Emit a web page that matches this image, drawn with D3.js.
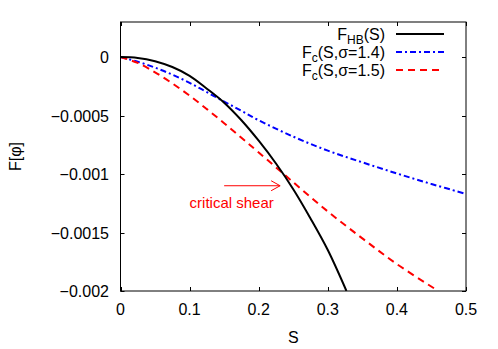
<!DOCTYPE html>
<html>
<head>
<meta charset="utf-8">
<script src="https://cdn.jsdelivr.net/npm/d3@7"></script>
<style>
  body { margin: 0; background: #fff; }
  svg { display: block; font-family: "Liberation Sans", Arial, sans-serif; }
</style>
</head>
<body>
<div id="chart"></div>
<script>
// values
var sHB  = [0, 0.025, 0.05, 0.075, 0.1, 0.125, 0.15, 0.175, 0.2, 0.225, 0.25, 0.275, 0.3, 0.327];
var fHB  = [0, -0.000007, -0.000035, -0.000085, -0.00016, -0.00027, -0.00039, -0.00054, -0.000715, -0.00091, -0.00113, -0.00138, -0.00165, -0.00200];

var s14  = [0, 0.025, 0.05, 0.075, 0.1, 0.125, 0.15, 0.175, 0.2, 0.25, 0.3, 0.35, 0.4, 0.45, 0.5];
var f14  = [0, -0.00004, -0.00009, -0.00015, -0.00022, -0.00030, -0.00038, -0.00046, -0.00054, -0.00068, -0.00080, -0.00090, -0.000995, -0.001085, -0.00117];

var s15  = [0, 0.025, 0.05, 0.075, 0.1, 0.125, 0.15, 0.175, 0.2, 0.25, 0.3, 0.35, 0.4, 0.46];
var f15  = [0, -0.00005, -0.00013, -0.000225, -0.00033, -0.000445, -0.000565, -0.00069, -0.000815, -0.00107, -0.00132, -0.00155, -0.00177, -0.00200];

var xTicks = [0, 0.1, 0.2, 0.3, 0.4, 0.5];
var yTicks = [0, -0.0005, -0.001, -0.0015, -0.002];
var yTickLabels = ["0", "\u22120.0005", "\u22120.001", "\u22120.0015", "\u22120.002"];

var W = 498, H = 349;
var m = {left: 120.5, right: 466, top: 22, bottom: 291};

var x = d3.scaleLinear().domain([0, 0.5]).range([m.left, m.right]);
var y = d3.scaleLinear().domain([-0.002, 0.0003]).range([m.bottom, m.top]);

var svg = d3.select("#chart").append("svg")
            .attr("width", W)
            .attr("height", H);

// ticks, mirrored on all four sides, pointing inward
var tickLen = 4;
var tg = svg.append("g").attr("stroke", "#000").attr("stroke-width", 1);
xTicks.forEach(function(t) {
  var px = Math.round(x(t)) + 0.5;
  tg.append("line").attr("x1", px).attr("x2", px).attr("y1", m.bottom).attr("y2", m.bottom - tickLen);
  tg.append("line").attr("x1", px).attr("x2", px).attr("y1", m.top).attr("y2", m.top + tickLen);
});
yTicks.forEach(function(t) {
  var py = Math.round(y(t)) + 0.5;
  tg.append("line").attr("x1", m.left).attr("x2", m.left + tickLen).attr("y1", py).attr("y2", py);
  tg.append("line").attr("x1", m.right).attr("x2", m.right - tickLen).attr("y1", py).attr("y2", py);
});

// tick labels
svg.selectAll(".xl").data(xTicks).enter().append("text")
   .attr("x", function(d) { return x(d); })
   .attr("y", 315)
   .attr("text-anchor", "middle")
   .attr("font-size", 16)
   .text(function(d) { return d === 0 ? "0" : d3.format(".1f")(d); });

svg.selectAll(".yl").data(yTicks).enter().append("text")
   .attr("x", 109)
   .attr("y", function(d) { return y(d) + 6; })
   .attr("text-anchor", "end")
   .attr("font-size", 16)
   .text(function(d, i) { return yTickLabels[i]; });

// axis titles
svg.append("text")
   .attr("x", x(0.25))
   .attr("y", 343)
   .attr("text-anchor", "middle")
   .attr("font-size", 16)
   .text("S");

svg.append("text")
   .attr("transform", "translate(21," + ((m.top + m.bottom) / 2) + ")rotate(-90)")
   .attr("text-anchor", "middle")
   .attr("font-size", 16)
   .text("F[\u03c6]");

// curves
svg.append("clipPath").attr("id", "clip")
   .append("rect")
   .attr("x", m.left).attr("y", m.top)
   .attr("width", m.right - m.left).attr("height", m.bottom - m.top);

var line = d3.line()
             .x(function(d) { return x(d[0]); })
             .y(function(d) { return y(d[1]); })
             .curve(d3.curveCatmullRom.alpha(0.5));

var series = [
  {s: s14, f: f14, color: "#0000ff", dash: "6,3,2,3"},
  {s: s15, f: f15, color: "#ff0000", dash: "7,5"},
  {s: sHB, f: fHB, color: "#000000", dash: null}
];

series.forEach(function(d) {
  svg.append("path")
     .attr("clip-path", "url(#clip)")
     .attr("d", line(d3.zip(d.s, d.f)))
     .attr("fill", "none")
     .attr("stroke", d.color)
     .attr("stroke-width", 2)
     .attr("stroke-dasharray", d.dash);
});

// frame
svg.append("rect")
   .attr("x", m.left).attr("y", m.top)
   .attr("width", m.right - m.left).attr("height", m.bottom - m.top)
   .attr("fill", "none")
   .attr("stroke", "#000")
   .attr("stroke-width", 1);

// legend
var legend = [
  {main: "F", sub: "HB", rest: "(S)", color: "#000000", dash: null},
  {main: "F", sub: "c", rest: "(S,\u03c3=1.4)", color: "#0000ff", dash: "6,3,2,3"},
  {main: "F", sub: "c", rest: "(S,\u03c3=1.5)", color: "#ff0000", dash: "7,5"}
];

legend.forEach(function(d, i) {
  var ly = 34 + i * 18;
  var t = svg.append("text")
             .attr("x", 385)
             .attr("y", ly + 6)
             .attr("text-anchor", "end")
             .attr("font-size", 16);
  t.append("tspan").text(d.main);
  t.append("tspan").attr("dy", 4).attr("font-size", 12).text(d.sub);
  t.append("tspan").attr("dy", -4).text(d.rest);

  svg.append("line")
     .attr("x1", 396).attr("x2", 444)
     .attr("y1", ly).attr("y2", ly)
     .attr("stroke", d.color)
     .attr("stroke-width", 2)
     .attr("stroke-dasharray", d.dash);
});

// annotation
var ay = y(-0.0011);
var ax1 = x(0.15), ax2 = x(0.231);
var ag = svg.append("g").attr("stroke", "#ff0000").attr("stroke-width", 1).attr("fill", "none");
ag.append("line").attr("x1", ax1).attr("x2", ax2).attr("y1", ay).attr("y2", ay);
ag.append("path").attr("d", "M" + (ax2 - 9) + "," + (ay - 5) + "L" + ax2 + "," + ay + "L" + (ax2 - 9) + "," + (ay + 5));

svg.append("text")
   .attr("x", x(0.1))
   .attr("y", y(-0.00129))
   .attr("fill", "#ff0000")
   .attr("font-size", 15)
   .text("critical shear");
</script>
</body>
</html>
